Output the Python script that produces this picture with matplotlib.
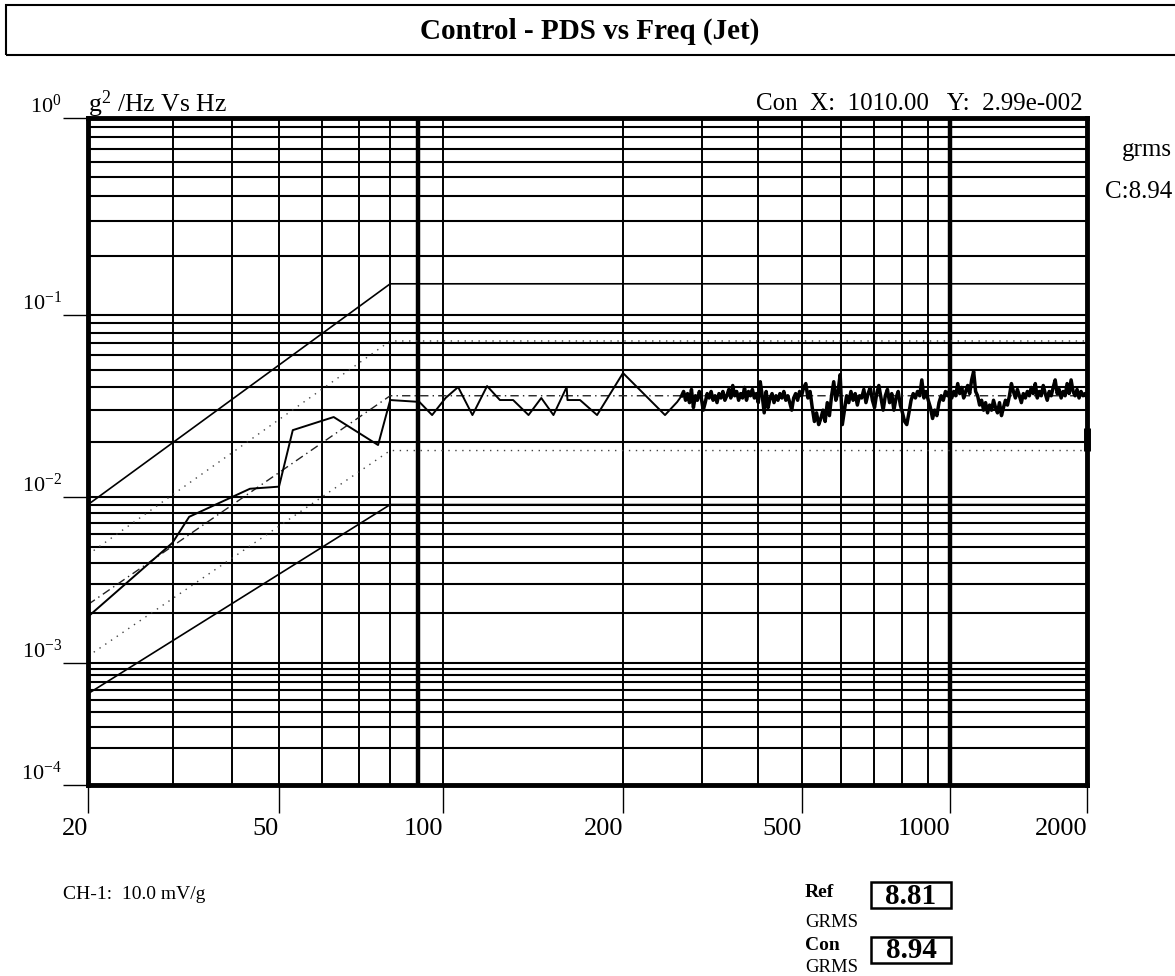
import numpy as np
import matplotlib
matplotlib.use('Agg')
import matplotlib.pyplot as plt
from matplotlib.patches import Rectangle
from matplotlib.ticker import NullLocator
from matplotlib.transforms import blended_transform_factory

plt.rcParams['font.family'] = ['Liberation Serif', 'DejaVu Serif']
plt.rcParams['mathtext.fontset'] = 'custom'
plt.rcParams['mathtext.rm'] = 'Liberation Serif'
plt.rcParams['mathtext.it'] = 'Liberation Serif:italic'
plt.rcParams['mathtext.bf'] = 'Liberation Serif:bold'

W, H = 1175, 976

# ---- data ----
# reference profile and tolerance lines (g^2/Hz)
prof_f = [20, 80, 2000]
ref_v = [0.00225, 0.036, 0.036]
abort_hi_v = [0.009, 0.144, 0.144]
abort_lo_v = [0.00056, 0.009, 0.009]
alarm_hi_v = [0.0045, 0.072, 0.072]
alarm_lo_v = [0.0011, 0.018, 0.018]

# control spectrum, low frequency part
ctrl_f = [20, 30, 32.5, 43.5, 50, 53, 63, 76, 80, 90.5, 95.5, 101, 106, 112,
          118.5, 124.5, 131, 139, 146, 153, 161, 161.5, 169.5, 181, 200, 248, 264]
ctrl_v = [0.0019, 0.0053, 0.0076, 0.0111, 0.0114, 0.0233, 0.0275, 0.0193, 0.0341,
          0.0333, 0.0282, 0.035, 0.0402, 0.0282, 0.0407, 0.0341, 0.0341, 0.0282,
          0.035, 0.0282, 0.0402, 0.0341, 0.0341, 0.0282, 0.048, 0.0282, 0.0333]

# control spectrum, dense part 270 - 2000 Hz
noise_v = [
    0.036, 0.038, 0.034, 0.037, 0.033, 0.039, 0.031, 0.036, 0.034, 0.038,
    0.035, 0.030, 0.033, 0.037, 0.035, 0.038, 0.034, 0.036, 0.033, 0.037,
    0.035, 0.038, 0.034, 0.036, 0.039, 0.035, 0.041, 0.036, 0.038, 0.034,
    0.037, 0.035, 0.040, 0.034, 0.038, 0.036, 0.039, 0.035, 0.037, 0.033,
    0.043, 0.036, 0.029, 0.038, 0.031, 0.035, 0.037, 0.033, 0.036, 0.034,
    0.037, 0.035, 0.038, 0.034, 0.036, 0.033, 0.030, 0.035, 0.037, 0.034,
    0.038, 0.036, 0.040, 0.042, 0.035, 0.038, 0.031, 0.026, 0.029, 0.025,
    0.027, 0.030, 0.026, 0.033, 0.028, 0.036, 0.043, 0.034, 0.038, 0.047,
    0.025, 0.030, 0.036, 0.033, 0.038, 0.034, 0.037, 0.032, 0.036, 0.035,
    0.039, 0.033, 0.037, 0.040, 0.034, 0.031, 0.037, 0.041, 0.035, 0.030,
    0.036, 0.039, 0.033, 0.037, 0.030, 0.035, 0.038, 0.032, 0.029, 0.026,
    0.025, 0.029, 0.034, 0.037, 0.035, 0.038, 0.036, 0.044, 0.035, 0.038,
    0.034, 0.031, 0.027, 0.030, 0.028, 0.033, 0.036, 0.034, 0.038, 0.036,
    0.039, 0.035, 0.038, 0.036, 0.042, 0.037, 0.040, 0.035, 0.038, 0.041,
    0.037, 0.044, 0.049, 0.038, 0.036, 0.032, 0.034, 0.030, 0.033, 0.029,
    0.032, 0.030, 0.034, 0.031, 0.029, 0.033, 0.028, 0.031, 0.034, 0.032,
    0.036, 0.042, 0.038, 0.035, 0.039, 0.036, 0.033, 0.037, 0.035, 0.038,
    0.036, 0.040, 0.037, 0.042, 0.035, 0.038, 0.036, 0.041, 0.037, 0.034,
    0.038, 0.036, 0.040, 0.044, 0.037, 0.039, 0.035, 0.038, 0.036, 0.042,
    0.037, 0.044, 0.038, 0.036, 0.039, 0.035, 0.038, 0.036, 0.037, 0.035,
]
noise_f = np.geomspace(270, 2000, len(noise_v))

x_tick_f = [20, 50, 100, 200, 500, 1000, 2000]
x_tick_lab = ['20', '50', '100', '200', '500', '1000', '2000']
y_tick_v = [1e-4, 1e-3, 1e-2, 1e-1, 1e0]
y_tick_lab = [r'$10^{-4}$', r'$10^{-3}$', r'$10^{-2}$', r'$10^{-1}$', r'$10^{0}$']

# printed axis is not evenly spaced per decade, so map through the tick positions
x_tick_pos = [0, 191, 355, 535, 714, 862, 999]
y_tick_pos = [0, 122, 288, 470, 667]
grid_x = [30, 40, 50, 60, 70, 80, 90, 100, 200, 300, 400, 500, 600, 700, 800, 900, 1000]
thick_x = [90, 1000]


def make_scale(vals, pos):
    lv = np.log10(vals)
    p = np.array(pos, float)
    s0 = (p[1] - p[0]) / (lv[1] - lv[0])
    s1 = (p[-1] - p[-2]) / (lv[-1] - lv[-2])
    lv_e = np.r_[lv[0] - 20, lv, lv[-1] + 20]
    p_e = np.r_[p[0] - 20 * s0, p, p[-1] + 20 * s1]

    def fwd(v):
        v = np.asarray(v, float)
        l = np.log10(np.where(v > 0, v, 1e-300))
        return np.interp(l, lv_e, p_e)

    def inv(u):
        return 10 ** np.interp(np.asarray(u, float), p_e, lv_e)
    return fwd, inv


def fx(x):
    return x / W


def fy(y):
    return 1 - y / H


fig = plt.figure(figsize=(W / 100, H / 100), dpi=100)
ax = fig.add_axes([fx(88), fy(785), (1087 - 88) / W, (785 - 118) / H])
ax.set_xscale('function', functions=make_scale(x_tick_f, x_tick_pos))
ax.set_yscale('function', functions=make_scale(y_tick_v, y_tick_pos))
ax.set_xlim(20, 2000)
ax.set_ylim(1e-4, 1)

# grid
for f in grid_x:
    ax.axvline(f, color='k', lw=3.2 if f in thick_x else 1.4, zorder=1)
for d in y_tick_v[:-1]:
    for m in range(1, 10):
        if m == 1 and d == 1e-4:
            continue
        ax.axhline(m * d, color='k', lw=1.5, zorder=1)

# profile and limits
ax.plot(prof_f, abort_hi_v, color='k', lw=1.2, zorder=3)
ax.plot(prof_f, abort_lo_v, color='k', lw=1.2, zorder=3)
ax.plot(prof_f, alarm_hi_v, color='#444444', lw=1.0, ls=(0, (1, 4)), zorder=3)
ax.plot(prof_f, alarm_lo_v, color='#444444', lw=1.0, ls=(0, (1, 4)), zorder=3)
ax.plot(prof_f, ref_v, color='#222222', lw=1.0, ls=(0, (6, 3, 1, 3)), zorder=3)

# control
ax.plot(list(ctrl_f) + [noise_f[0]], list(ctrl_v) + [noise_v[0]], color='k', lw=1.4, zorder=4)
ax.plot(noise_f, noise_v, color='k', lw=2.5, zorder=4)
ax.plot([2000, 2000], [0.018, 0.024], color='k', lw=5, solid_capstyle='butt', clip_on=False, zorder=5)

for s in ax.spines.values():
    s.set_linewidth(3.5)
    s.set_zorder(6)

ax.xaxis.set_minor_locator(NullLocator())
ax.yaxis.set_minor_locator(NullLocator())
ax.set_xticks(x_tick_f)
ax.set_xticklabels(x_tick_lab, ha='right', fontsize=19)
ax.set_yticks(y_tick_v)
ax.tick_params(axis='x', direction='out', length=20, width=1, pad=4)
ax.tick_params(axis='y', direction='out', length=18, width=1, labelleft=False)
tr = blended_transform_factory(ax.transAxes, ax.transData)
for v, lab in zip(y_tick_v, y_tick_lab):
    ax.text(-0.026, v, lab, transform=tr, ha='right', va='bottom', fontsize=16)

# title box
fig.add_artist(Rectangle((fx(6), fy(55)), 1.2, 50 / H, transform=fig.transFigure,
                         fill=False, lw=1.5, color='k'))
fig.text(0.502, fy(31), 'Control - PDS vs Freq (Jet)', ha='center', va='center',
         fontsize=21, fontweight='bold')

fig.text(fx(88), fy(112), r'g$^2$ /Hz Vs Hz', ha='left', va='baseline', fontsize=18.5)
fig.text(fx(1083), fy(110), 'Con  X:  1010.00   Y:  2.99e-002', ha='right', va='baseline', fontsize=18)
fig.text(fx(1122), fy(156), 'grms', ha='left', va='baseline', fontsize=18)
fig.text(fx(1105), fy(198), 'C:8.94', ha='left', va='baseline', fontsize=18)

fig.text(fx(63), fy(899), 'CH-1:  10.0 mV/g', ha='left', va='baseline', fontsize=14)

fig.text(fx(805), fy(897), 'Ref', ha='left', va='baseline', fontsize=14, fontweight='bold')
fig.text(fx(805), fy(927), 'GRMS', ha='left', va='baseline', fontsize=13.5)
fig.text(fx(805), fy(950), 'Con', ha='left', va='baseline', fontsize=14, fontweight='bold')
fig.text(fx(805), fy(972), 'GRMS', ha='left', va='baseline', fontsize=13.5)
for top, val in [(882, '8.81'), (937, '8.94')]:
    fig.add_artist(Rectangle((fx(871), fy(top + 26)), 80 / W, 26 / H, transform=fig.transFigure,
                             fill=False, lw=1.8, color='k'))
    fig.text(fx(911), fy(top + 14), val, ha='center', va='center', fontsize=21, fontweight='bold')

fig.savefig('out.png', dpi=100)
